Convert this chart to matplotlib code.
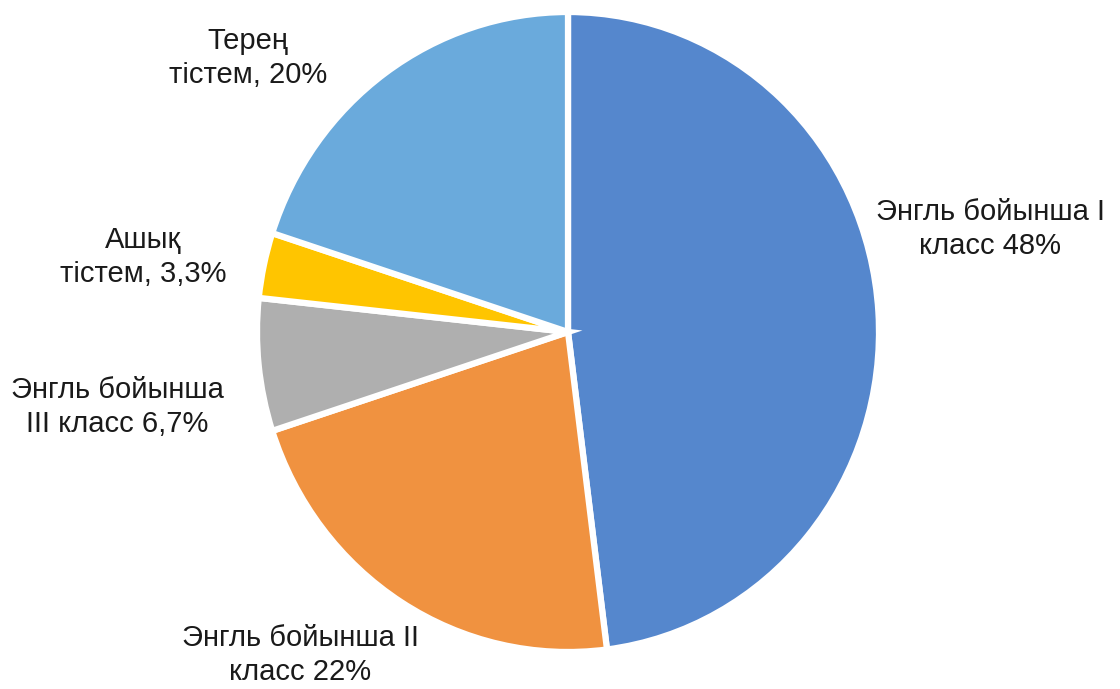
import matplotlib.pyplot as plt

plt.rcParams['font.family'] = ['Liberation Sans', 'DejaVu Sans']

# Share of each class, clockwise from the top
labels = ["Энгль бойынша I\nкласс 48%",
          "Энгль бойынша II\nкласс 22%",
          "Энгль бойынша\nIII класс 6,7%",
          "Ашық\nтістем, 3,3%",
          "Терең\nтістем, 20%"]
shares = [48, 22, 6.7, 3.3, 20]
colors = ["#5587cd", "#f09240", "#afafaf", "#ffc500", "#6aaadc"]

# label anchor points in figure pixels (x from left, y from top)
label_x = [990, 300, 117, 143, 248]
label_y = [229, 655, 407, 257, 58]

W, H = 1120, 689
fig = plt.figure(figsize=(W / 100, H / 100), dpi=100)
ax = fig.add_axes([0, 0, 1, 1])

# pie centre and radii in pixels
cx, cy, rx, ry = 568, 332, 311, 320

ax.pie(shares, colors=colors, startangle=90, counterclock=False,
       wedgeprops=dict(edgecolor="white", linewidth=4.5))
ax.set_aspect("auto")
ax.set_xlim(-cx / rx, (W - cx) / rx)
ax.set_ylim(-(H - cy) / ry, cy / ry)
ax.axis("off")

for lab, x, y in zip(labels, label_x, label_y):
    fig.text(x / W, 1 - y / H, lab, ha="center", va="center",
             fontsize=21, color="#1a1a1a", linespacing=1.3)

fig.savefig("out.png", dpi=100, facecolor="white")
